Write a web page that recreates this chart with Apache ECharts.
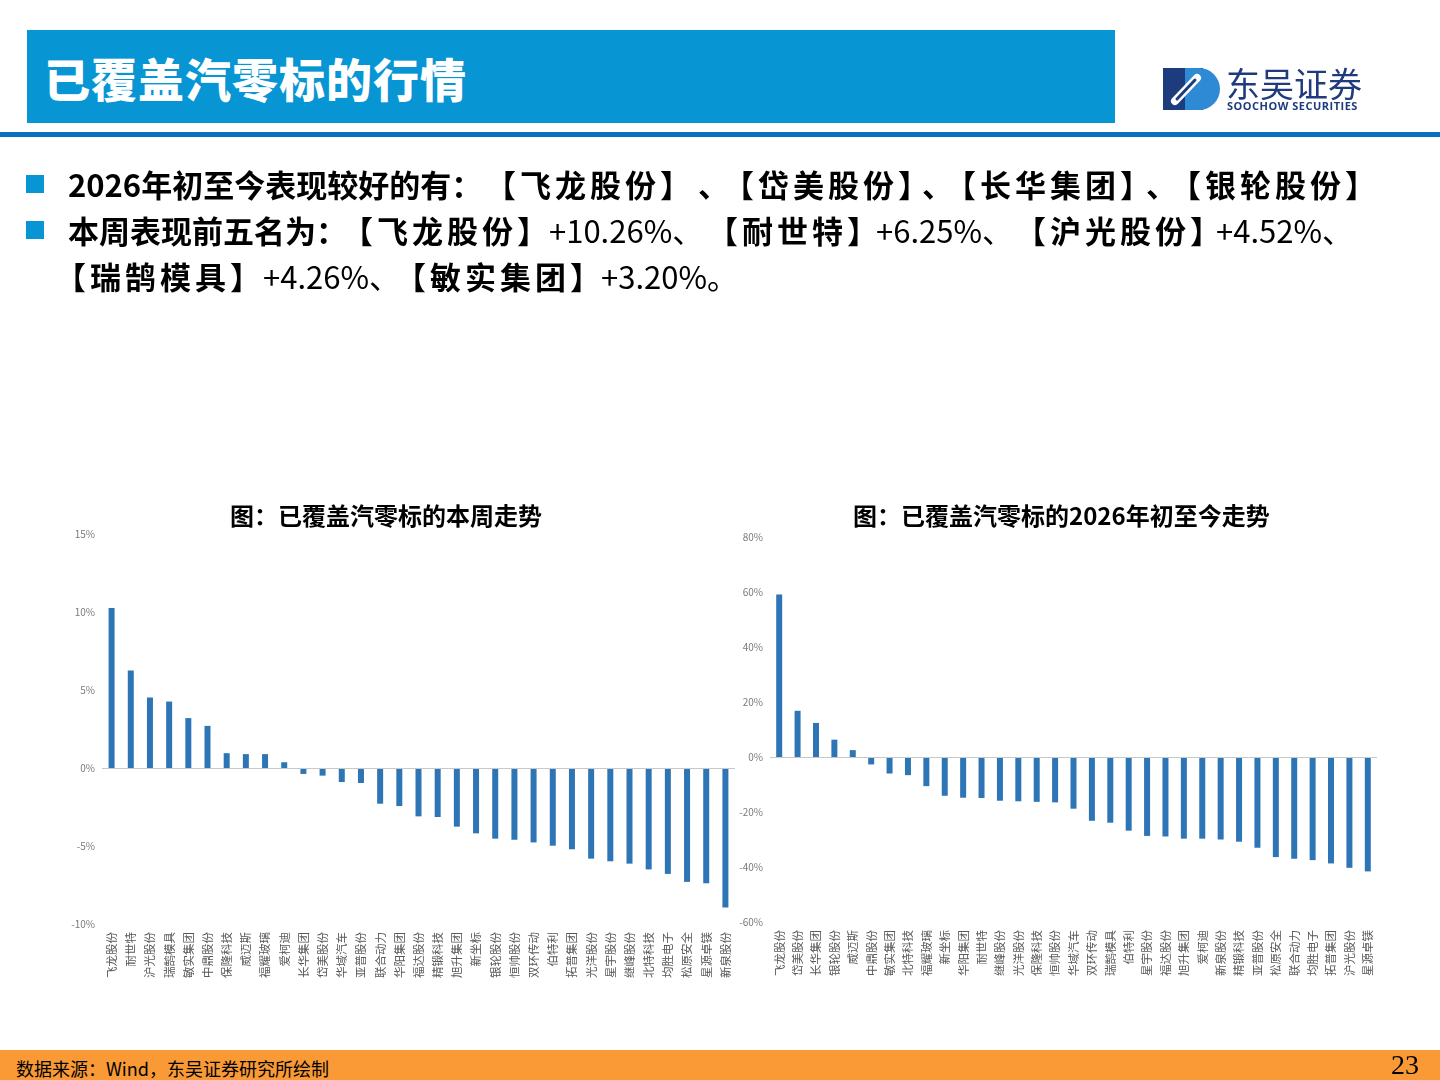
<!DOCTYPE html>
<html><head><meta charset="utf-8">
<script src="https://cdn.jsdelivr.net/npm/echarts@6/dist/echarts.min.js"></script>
<style>
body{margin:0;width:1440px;height:1080px;position:relative;background:#fff;font-family:"Noto Sans CJK SC","Noto Sans",sans-serif;overflow:hidden}
#chart{position:absolute;left:0;top:0;width:1440px;height:1080px}
.abs{position:absolute;white-space:nowrap}
#hdr{left:27px;top:30px;width:1088px;height:93px;background:#0795d4}
#hdrTitle{left:44px;top:54px;line-height:46px;font-size:46px;font-weight:900;color:#fff;letter-spacing:1px}
#rule{left:0;top:132px;width:1440px;height:5px;background:#0b6fc0}
.bullet{width:18px;height:18px;background:#0795d4}
.t{position:absolute;white-space:nowrap;font-size:31px;line-height:46px;color:#000}
.b{font-weight:700}
.n{font-weight:400}
.g{letter-spacing:4px}
#foot{left:0;top:1050px;width:1440px;height:30px;background:#f99a36}
#src{left:16px;top:1056px;font-size:18px;line-height:24px;color:#000}
#page{left:1391px;top:1050px;font-family:"Liberation Serif",serif;font-size:28px;line-height:30px;color:#000}
#logoCn{left:1226px;top:62px;font-size:34px;line-height:42px;color:#1f3b7d}
#logoEn{left:1227px;top:99px;font-size:11px;line-height:14px;font-weight:700;color:#1f3b7d;letter-spacing:0.5px;font-family:"Open Sans","Noto Sans",sans-serif}
</style></head>
<body>
<div id="chart"></div>
<div class="abs" id="hdr"></div>
<div class="abs" id="hdrTitle">已覆盖汽零标的行情</div>
<div class="abs" id="rule"></div>
<svg class="abs" style="left:1163px;top:66px" width="58" height="46" viewBox="0 0 58 46">
  <rect x="0" y="2" width="40" height="42" fill="#1d3c7e"/>
  <path d="M22,2 H36 A21,21 0 0 1 36,44 H22 Z" fill="#2f8ad6"/>
  <line x1="12" y1="35" x2="34" y2="12" stroke="#ffffff" stroke-width="8" stroke-linecap="round"/>
  <line x1="14" y1="33" x2="32" y2="14" stroke="#1d3c7e" stroke-width="3" stroke-linecap="round"/>
</svg>
<div class="abs" id="logoCn">东吴证券</div>
<div class="abs" id="logoEn">SOOCHOW SECURITIES</div>
<div class="abs bullet" style="left:26px;top:175px"></div>
<div class="abs bullet" style="left:26px;top:221px"></div>

<div class="t b" style="left:68px;top:161px">2026年初至今表现较好的有：</div>
<div class="t b g" style="left:485px;top:161px">【飞龙股份】</div>
<div class="t b" style="left:698px;top:161px">、</div>
<div class="t b g" style="left:723px;top:161px">【岱美股份】</div>
<div class="t b" style="left:922px;top:161px">、</div>
<div class="t b g" style="left:945px;top:161px">【长华集团】</div>
<div class="t b" style="left:1146px;top:161px">、</div>
<div class="t b g" style="left:1170px;top:161px">【银轮股份】</div>

<div class="t b" style="left:68px;top:207px">本周表现前五名为：</div>
<div class="t b g" style="left:342px;top:207px">【飞龙股份】</div>
<div class="t n" style="left:549px;top:207px">+10.26%、</div>
<div class="t b g" style="left:707px;top:207px">【耐世特】</div>
<div class="t n" style="left:876px;top:207px">+6.25%、</div>
<div class="t b g" style="left:1015px;top:207px">【沪光股份】</div>
<div class="t n" style="left:1216px;top:207px">+4.52%、</div>

<div class="t b g" style="left:55px;top:253px">【瑞鹄模具】</div>
<div class="t n" style="left:263px;top:253px">+4.26%、</div>
<div class="t b g" style="left:395px;top:253px">【敏实集团】</div>
<div class="t n" style="left:601px;top:253px">+3.20%。</div>

<div class="abs" id="foot"></div>
<div class="abs" id="src">数据来源：Wind，东吴证券研究所绘制</div>
<div class="abs" id="page">23</div>
<script>
const weekCategories = ['飞龙股份','耐世特','沪光股份','瑞鹄模具','敏实集团','中鼎股份','保隆科技','威迈斯','福耀玻璃','爱柯迪','长华集团','岱美股份','华域汽车','亚普股份','联合动力','华阳集团','福达股份','精锻科技','旭升集团','新坐标','银轮股份','恒帅股份','双环传动','伯特利','拓普集团','光洋股份','星宇股份','继峰股份','北特科技','均胜电子','松原安全','星源卓镁','新泉股份'];
const weekValues = [10.26,6.25,4.52,4.26,3.20,2.70,0.95,0.89,0.89,0.37,-0.38,-0.49,-0.90,-0.96,-2.29,-2.44,-3.10,-3.14,-3.76,-4.19,-4.53,-4.60,-4.77,-4.98,-5.21,-5.81,-5.98,-6.13,-6.50,-6.79,-7.30,-7.39,-8.95];
const ytdCategories = ['飞龙股份','岱美股份','长华集团','银轮股份','威迈斯','中鼎股份','敏实集团','北特科技','福耀玻璃','新坐标','华阳集团','耐世特','继峰股份','光洋股份','保隆科技','恒帅股份','华域汽车','双环传动','瑞鹄模具','伯特利','星宇股份','福达股份','旭升集团','爱柯迪','新泉股份','精锻科技','亚普股份','松原安全','联合动力','均胜电子','拓普集团','沪光股份','星源卓镁'];
const ytdValues = [59.1,16.8,12.4,6.3,2.5,-2.7,-6.0,-6.6,-10.6,-14.1,-14.8,-14.9,-15.9,-16.1,-16.3,-16.5,-18.8,-23.2,-23.9,-26.8,-28.7,-28.9,-29.7,-29.7,-30.0,-30.8,-33.0,-36.4,-37.0,-37.5,-38.7,-40.3,-41.6];
const weekTicks = [-10,-5,0,5,10,15];
const ytdTicks = [-60,-40,-20,0,20,40,60,80];
const weekTitle = '图：已覆盖汽零标的本周走势';
const ytdTitle = '图：已覆盖汽零标的2026年初至今走势';

const font = '"Noto Sans CJK SC","Noto Sans",sans-serif';
const chart = echarts.init(document.getElementById('chart'), null, {renderer:'canvas'});
function xAxis(cats, gi){
  return {type:'category', gridIndex:gi, data:cats, axisLine:{show:false, onZero:false}, axisTick:{show:false},
    axisLabel:{rotate:90, interval:0, fontSize:11.5, color:'#595959', margin:8, fontFamily:font}};
}
function yAxis(ticks, gi){
  return {type:'value', gridIndex:gi, min:ticks[0], max:ticks[ticks.length-1], interval:ticks[1]-ticks[0],
    splitLine:{show:false}, axisLine:{show:false}, axisTick:{show:false},
    axisLabel:{formatter:'{value}%', fontSize:10, color:'#7a7a7a', margin:7, fontFamily:font}};
}
function barSeries(vals, gi){
  return {type:'bar', xAxisIndex:gi, yAxisIndex:gi, data:vals, barWidth:6,
    itemStyle:{color:'#2e75b6'},
    markLine:{silent:true, symbol:'none', label:{show:false}, lineStyle:{color:'#c8c8c8', type:'solid', width:1.2}, data:[{yAxis:0}]}};
}
chart.setOption({
  animation:false,
  grid:[{left:102, right:705, top:534, bottom:156}, {left:770, right:63, top:537, bottom:158}],
  xAxis:[xAxis(weekCategories,0), xAxis(ytdCategories,1)],
  yAxis:[yAxis(weekTicks,0), yAxis(ytdTicks,1)],
  series:[barSeries(weekValues,0), barSeries(ytdValues,1)],
  graphic:[
    {type:'text', left:230, top:504, style:{text:weekTitle, fontSize:24, fontWeight:'bold', fill:'#000', fontFamily:font}},
    {type:'text', left:853, top:504, style:{text:ytdTitle, fontSize:24, fontWeight:'bold', fill:'#000', fontFamily:font}}
  ]
});
</script>
</body></html>
